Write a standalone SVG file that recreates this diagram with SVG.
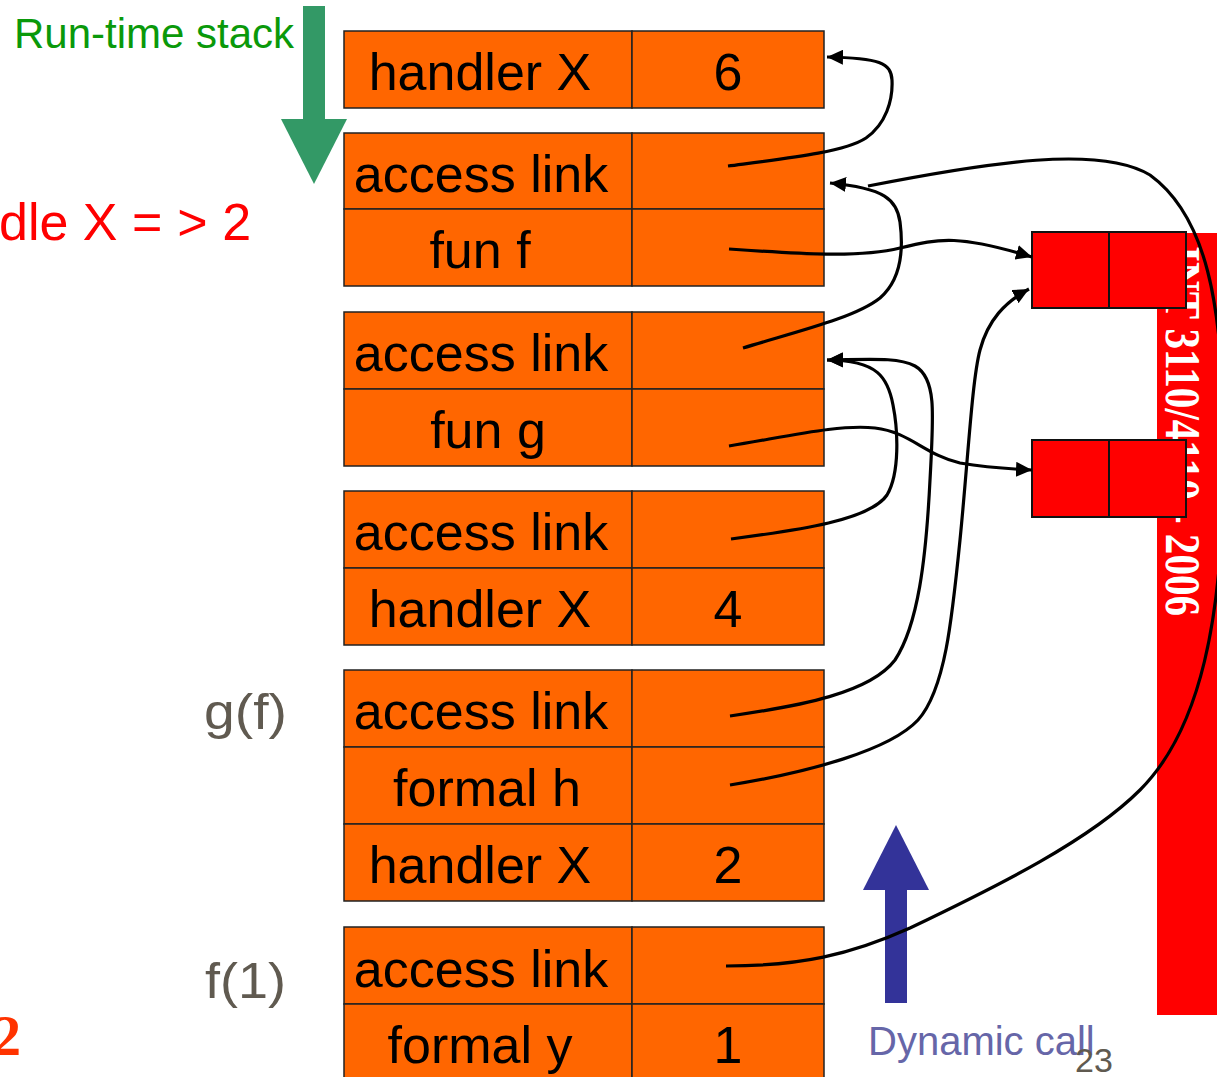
<svg xmlns="http://www.w3.org/2000/svg" width="1217" height="1077" viewBox="0 0 1217 1077">
<style>
.cell{fill:#ff6600;stroke:#222;stroke-width:1.5}
.clo{fill:#ff0000;stroke:#111;stroke-width:2}
.t{font-family:"Liberation Sans",Arial,sans-serif;font-size:52px;fill:#000;text-anchor:middle}
.lbl{font-family:"Liberation Sans",Arial,sans-serif;font-size:50px;fill:#605a50}
.c{fill:none;stroke:#000;stroke-width:3.2}
</style>
<defs>
<marker id="ah" markerUnits="userSpaceOnUse" markerWidth="17" markerHeight="15" refX="16" refY="7.5" orient="auto">
<path d="M0,0 L16,7.5 L0,15 z" fill="#000"/>
</marker>
</defs>
<rect width="1217" height="1077" fill="#fff"/>

<g id="sidebar">
<rect x="1157" y="233" width="62" height="782" fill="#ff0000"/>
<text transform="translate(1166,246) rotate(90)" font-family="Liberation Serif,Times New Roman,serif" font-weight="bold" font-size="50" fill="#fff" textLength="370" lengthAdjust="spacingAndGlyphs">INT 3110/4110 - 2006</text>
</g>

<g id="runtime-stack-label">
<rect x="303" y="6" width="22" height="114" fill="#339966"/>
<polygon points="281,119 347,119 314,184" fill="#339966"/>
<text x="14" y="48" font-family="Liberation Sans,Arial,sans-serif" font-size="42" fill="#0a990a">Run-time stack</text>
</g>

<g id="handle-label">
<text x="-1" y="240" font-family="Liberation Sans,Arial,sans-serif" font-size="52" fill="#ff0000">dle X =<tspan dx="15">&gt;</tspan> 2</text>
</g>

<g id="frame1">
<rect class="cell" x="344" y="31" width="288" height="77"/>
<rect class="cell" x="632" y="31" width="192" height="77"/>
<text class="t" x="480" y="90">handler X</text>
<text class="t" x="728" y="90">6</text>
</g>

<g id="frame2">
<rect class="cell" x="344" y="133" width="288" height="76"/>
<rect class="cell" x="632" y="133" width="192" height="76"/>
<rect class="cell" x="344" y="209" width="288" height="77"/>
<rect class="cell" x="632" y="209" width="192" height="77"/>
<text class="t" x="481" y="192">access link</text>
<text class="t" x="480" y="268">fun f</text>
</g>

<g id="frame3">
<rect class="cell" x="344" y="312" width="288" height="77"/>
<rect class="cell" x="632" y="312" width="192" height="77"/>
<rect class="cell" x="344" y="389" width="288" height="77"/>
<rect class="cell" x="632" y="389" width="192" height="77"/>
<text class="t" x="481" y="371">access link</text>
<text class="t" x="488" y="448">fun g</text>
</g>

<g id="frame4">
<rect class="cell" x="344" y="491" width="288" height="77"/>
<rect class="cell" x="632" y="491" width="192" height="77"/>
<rect class="cell" x="344" y="568" width="288" height="77"/>
<rect class="cell" x="632" y="568" width="192" height="77"/>
<text class="t" x="481" y="550">access link</text>
<text class="t" x="480" y="627">handler X</text>
<text class="t" x="728" y="627">4</text>
</g>

<g id="frame5">
<rect class="cell" x="344" y="670" width="288" height="77"/>
<rect class="cell" x="632" y="670" width="192" height="77"/>
<rect class="cell" x="344" y="747" width="288" height="77"/>
<rect class="cell" x="632" y="747" width="192" height="77"/>
<rect class="cell" x="344" y="824" width="288" height="77"/>
<rect class="cell" x="632" y="824" width="192" height="77"/>
<text class="t" x="481" y="729">access link</text>
<text class="t" x="487" y="806">formal h</text>
<text class="t" x="480" y="883">handler X</text>
<text class="t" x="728" y="883">2</text>
<text class="lbl" x="204" y="729" textLength="83" lengthAdjust="spacingAndGlyphs">g(f)</text>
</g>

<g id="frame6">
<rect class="cell" x="344" y="927" width="288" height="77"/>
<rect class="cell" x="632" y="927" width="192" height="77"/>
<rect class="cell" x="344" y="1004" width="288" height="80"/>
<rect class="cell" x="632" y="1004" width="192" height="80"/>
<text class="t" x="481" y="987">access link</text>
<text class="t" x="480" y="1063">formal y</text>
<text class="t" x="728" y="1063">1</text>
<text class="lbl" x="205" y="998" textLength="81" lengthAdjust="spacingAndGlyphs">f(1)</text>
</g>

<g id="closure-f">
<rect class="clo" x="1032" y="232" width="77" height="76"/>
<rect class="clo" x="1109" y="232" width="77" height="76"/>
</g>

<g id="closure-g">
<rect class="clo" x="1032" y="440" width="77" height="77"/>
<rect class="clo" x="1109" y="440" width="77" height="77"/>
</g>

<g id="dynamic-call">
<rect x="885" y="889" width="22" height="114" fill="#333399"/>
<polygon points="863,890 929,890 896,825" fill="#333399"/>
<text x="868" y="1055" font-family="Liberation Sans,Arial,sans-serif" font-size="40" fill="#6666a8">Dynamic call</text>
</g>

<g id="connectors">
<path class="c" marker-end="url(#ah)" d="M728,166 C790,158 845,152 866,138 C886,124 893,100 892,80 C891,63 880,58 827,57"/>
<path class="c" marker-end="url(#ah)" d="M743,348 C795,332 855,318 880,298 C903,278 903,245 900,222 C897,200 885,188 830,183"/>
<path class="c" d="M726,966 C800,966 850,955 910,928 C1000,885 1090,840 1140,790 C1200,730 1224,620 1224,450 C1224,300 1205,215 1150,175 C1100,145 990,162 868,186"/>
<path class="c" marker-end="url(#ah)" d="M729,249 C800,254 860,258 900,248 C940,238 960,235 1032,257"/>
<path class="c" marker-end="url(#ah)" d="M729,446 C790,436 840,424 875,428 C910,432 925,455 960,463 C990,468 1010,469 1032,470"/>
<path class="c" marker-end="url(#ah)" d="M731,539 C800,530 870,520 887,495 C900,473 898,430 893,405 C888,378 878,360 827,360"/>
<path class="c" marker-end="url(#ah)" d="M730,716 C800,706 870,693 895,660 C918,625 926,560 930,480 C934,410 936,378 915,366 C900,358 880,359 827,360"/>
<path class="c" marker-end="url(#ah)" d="M730,785 C810,772 890,750 918,720 C945,690 952,620 960,540 C968,460 972,380 980,350 C988,320 1005,302 1029,289"/>
</g>

<g id="page-marks">
<text x="-7" y="1055" font-family="Liberation Serif,Times New Roman,serif" font-weight="bold" font-size="56" fill="#ff3300">2</text>
<text x="1075" y="1072" font-family="Liberation Sans,Arial,sans-serif" font-size="34" fill="#605a50">23</text>
</g>
</svg>
